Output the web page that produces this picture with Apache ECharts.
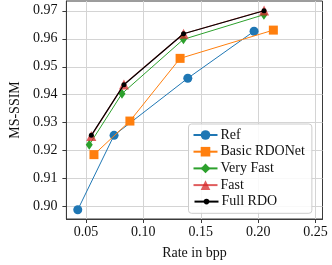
<!DOCTYPE html>
<html><head><meta charset="utf-8">
<script src="https://cdn.jsdelivr.net/npm/echarts@6/dist/echarts.min.js"></script>
<style>html,body{margin:0;padding:0;background:#fff}#c{width:332px;height:265px}</style>
</head><body><div id="c"></div>
<script>
const seriesNames = ["Ref", "Basic RDONet", "Very Fast", "Fast", "Full RDO"];
const refRate = [0.0429, 0.0745, 0.1387, 0.1964];
const refSsim = [0.8989, 0.9255, 0.9459, 0.9627];
const basicRate = [0.0570, 0.0883, 0.1320, 0.2132];
const basicSsim = [0.9186, 0.9306, 0.9530, 0.9631];
const veryFastRate = [0.0529, 0.0814, 0.1349, 0.2050];
const veryFastSsim = [0.9221, 0.9404, 0.9598, 0.9686];
const fastRate = [0.0547, 0.0831, 0.1350, 0.2051];
const fastSsim = [0.9253, 0.9437, 0.9618, 0.9701];
const fullRate = [0.0547, 0.0831, 0.1350, 0.2051];
const fullSsim = [0.9255, 0.9436, 0.9618, 0.9700];
const xTicks = [0.05, 0.10, 0.15, 0.20, 0.25];
const yTicks = [0.90, 0.91, 0.92, 0.93, 0.94, 0.95, 0.96, 0.97];

const zip = (a, b) => a.map((v, i) => [v, b[i]]);
const font = "Liberation Serif";
const styles = [
  {color: "#1f77b4", symbol: "circle", size: 9, lw: 1},
  {color: "#ff7f0e", symbol: "rect", size: 9, lw: 1},
  {color: "#2ca02c", symbol: "diamond", size: [7, 10], lw: 1},
  {color: "rgba(214,39,40,0.75)", symbol: "triangle", size: 10, lw: 1.2},
  {color: "#000000", symbol: "circle", size: 5, lw: 1.2}
];
const datas = [zip(refRate, refSsim), zip(basicRate, basicSsim), zip(veryFastRate, veryFastSsim), zip(fastRate, fastSsim), zip(fullRate, fullSsim)];

const legendText = {fontFamily: font, fontSize: 14, color: "#111", lineHeight: 14, padding: [0, 0, 0, -2]};
const chart = echarts.init(document.getElementById('c'), null, {renderer: 'canvas'});
chart.setOption({
  animation: false,
  grid: {left: 57.5, right: 9.5, top: 1, bottom: 46, show: true, borderColor: "#3a3a3a", borderWidth: 1, backgroundColor: "transparent"},
  xAxis: {
    type: 'value', min: 0.033, max: 0.256,
    name: "Rate in bpp", nameLocation: 'middle', nameGap: 27,
    nameTextStyle: {fontFamily: font, fontSize: 14, color: "#111"},
    axisLine: {show: true, lineStyle: {color: "#3a3a3a"}},
    axisTick: {show: true, length: 4, customValues: xTicks, lineStyle: {color: "#3a3a3a"}},
    axisLabel: {customValues: xTicks, fontFamily: font, fontSize: 14, color: "#111", margin: 6,
      formatter: v => v.toFixed(2)},
    splitLine: {show: true, lineStyle: {color: "#d4d4d4", width: 1}}
  },
  yAxis: {
    type: 'value', min: 0.8956, max: 0.9735,
    name: "MS-SSIM", nameLocation: 'middle', nameGap: 44, nameRotate: 90,
    nameTextStyle: {fontFamily: font, fontSize: 14, color: "#111"},
    axisLine: {show: true, lineStyle: {color: "#3a3a3a"}},
    axisTick: {show: true, length: 4, customValues: yTicks, lineStyle: {color: "#3a3a3a"}},
    axisLabel: {customValues: yTicks, fontFamily: font, fontSize: 14, color: "#111", margin: 9,
      formatter: v => v.toFixed(2)},
    splitLine: {show: true, lineStyle: {color: "#d4d4d4", width: 1}}
  },
  legend: [{
    orient: 'vertical', left: 188.5, top: 124,
    padding: [4, 7, 21.2, 4],
    backgroundColor: "rgba(255,255,255,0.85)", borderColor: "#cccccc", borderWidth: 1, borderRadius: 3,
    itemWidth: 24, itemHeight: 12, itemGap: 2.7,
    textStyle: legendText,
    data: seriesNames.slice(0, 4)
  }, {
    orient: 'vertical', left: 188.5, top: 194.6,
    padding: [0, 0, 0, 5],
    itemWidth: 24, itemHeight: 7,
    textStyle: legendText,
    data: seriesNames.slice(4)
  }],
  series: seriesNames.map((n, i) => ({
    name: n, type: 'line', data: datas[i],
    symbol: styles[i].symbol, symbolSize: styles[i].size,
    itemStyle: {color: styles[i].color},
    lineStyle: {color: styles[i].color, width: styles[i].lw},
    z: 2 + i
  }))
});
</script></body></html>
